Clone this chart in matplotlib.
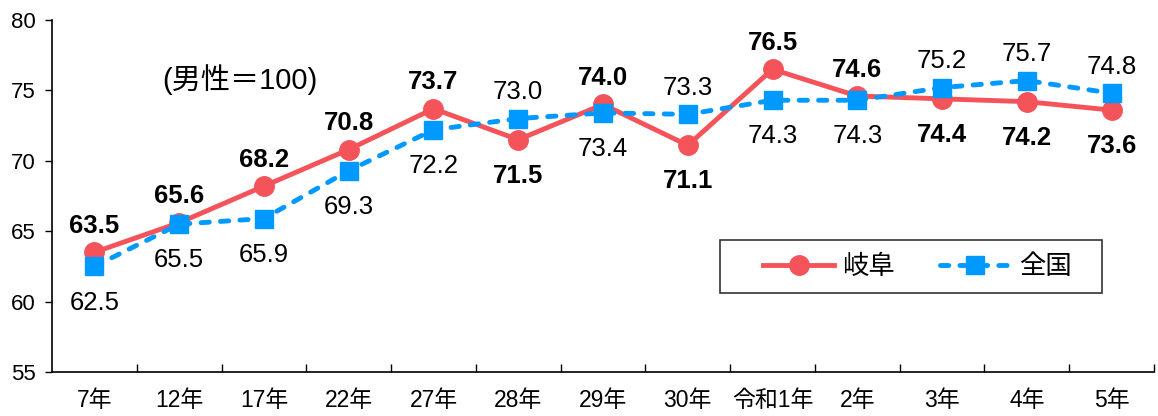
import numpy as np
import matplotlib.pyplot as plt
from matplotlib.patches import Rectangle
from matplotlib.ticker import FixedLocator

plt.rcParams['font.family'] = ['Liberation Sans', 'Noto Sans CJK JP']

years = ['7年', '12年', '17年', '22年', '27年', '28年', '29年', '30年',
         '令和1年', '2年', '3年', '4年', '5年']
gifu = [63.5, 65.6, 68.2, 70.8, 73.7, 71.5, 74.0, 71.1, 76.5, 74.6, 74.4, 74.2, 73.6]
zenkoku = [62.5, 65.5, 65.9, 69.3, 72.2, 73.0, 73.4, 73.3, 74.3, 74.3, 75.2, 75.7, 74.8]

# label above (+1) or below (-1) the point
gifu_pos = [1, 1, 1, 1, 1, -1, 1, -1, 1, 1, -1, -1, -1]
zen_pos = [-1, -1, -1, -1, -1, 1, -1, 1, -1, -1, 1, 1, 1]

red = '#F5535A'
blue = '#0099FF'

fig = plt.figure(figsize=(11.58, 4.16), dpi=100)
ax = fig.add_axes([52 / 1158, 44 / 416, 1102 / 1158, 352 / 416])

x = np.arange(len(years))
ax.plot(x, gifu, color=red, lw=3.5, marker='o', ms=14, label='岐阜', zorder=3)
ax.plot(x, zenkoku, color=blue, lw=3.5, ls=(0, (1.7, 2.3)), dash_capstyle='round',
        marker='s', ms=13, label='全国', zorder=4)

for i in x:
    d = 19 if gifu_pos[i] > 0 else -26
    ax.annotate(f'{gifu[i]:.1f}', (i, gifu[i]), xytext=(0, d), textcoords='offset points',
                ha='center', va='center', fontsize=18.5, fontweight='bold')
    d = 19 if zen_pos[i] > 0 else -26
    ax.annotate(f'{zenkoku[i]:.1f}', (i, zenkoku[i]), xytext=(0, d), textcoords='offset points',
                ha='center', va='center', fontsize=18.5)

ax.text(0.80, 75.8, '(男性＝100)', fontsize=21, va='center', ha='left')

ax.set_xlim(-0.5, len(years) - 0.5)
ax.set_ylim(55, 80)
ax.set_yticks(range(55, 81, 5))
ax.set_xticks(x)
ax.set_xticklabels(years)
ax.xaxis.set_minor_locator(FixedLocator(np.arange(0.5, len(years), 1)))
ax.tick_params(axis='x', which='major', length=0, pad=12, labelsize=16.5)
ax.tick_params(axis='x', which='minor', direction='in', length=6, width=1)
ax.tick_params(axis='y', length=5, width=1, pad=7, labelsize=16)
ax.spines['top'].set_visible(False)
ax.spines['right'].set_visible(False)
for s in ['left', 'bottom']:
    ax.spines[s].set_linewidth(1.2)

# legend box drawn separately so the entries can sit inside with wide margins
ax.add_patch(Rectangle((668 / 1102, 79 / 352), 382 / 1102, 53 / 352,
                       transform=ax.transAxes, fill=True, facecolor='white',
                       edgecolor='#333333', lw=1.2, zorder=5))
leg = ax.legend(loc='center left', bbox_to_anchor=(711 / 1102, 105.5 / 352), ncol=2,
                fontsize=19, frameon=False, handlelength=2.7, handletextpad=0.3,
                columnspacing=1.7, borderpad=0, borderaxespad=0)
leg.set_zorder(6)

fig.savefig('out.png', dpi=100)
